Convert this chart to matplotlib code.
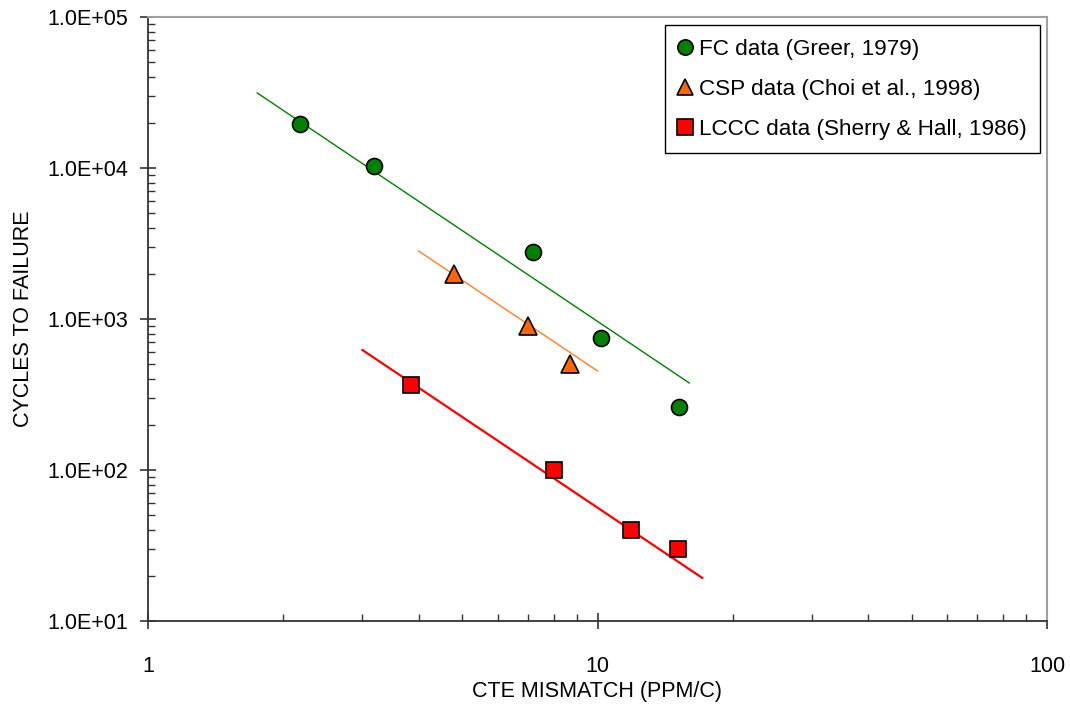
import matplotlib
matplotlib.use("Agg")
import matplotlib.pyplot as plt
from matplotlib.ticker import FixedLocator, FuncFormatter, LogLocator, NullFormatter

plt.rcParams['font.family'] = ['Liberation Sans', 'DejaVu Sans']

# Data
fc_x = [2.18, 3.18, 7.2, 10.2, 15.2]
fc_y = [19500, 10300, 2780, 748, 261]
csp_x = [4.8, 7.0, 8.7]
csp_y = [2000, 900, 500]
lccc_x = [3.85, 8.0, 11.9, 15.1]
lccc_y = [366, 100, 40, 30]

# Trend line end points
fc_fit_x = [1.75, 16.0]
fc_fit_y = [31400, 377]
csp_fit_x = [4.0, 10.0]
csp_fit_y = [2820, 453]
lccc_fit_x = [3.0, 17.1]
lccc_fit_y = [623, 19.3]

labels = ["FC data (Greer, 1979)", "CSP data (Choi et al., 1998)", "LCCC data (Sherry & Hall, 1986)"]

fig = plt.figure(figsize=(10.7, 7.04), dpi=100)
ax = fig.add_axes([148/1070, 1 - 621/704, (1047-148)/1070, (621-17)/704])
ax.set_xscale('log')
ax.set_yscale('log')
ax.set_xlim(1, 100)
ax.set_ylim(10, 1e5)

ax.plot(fc_fit_x, fc_fit_y, color='#008000', lw=1.0, zorder=2)
ax.plot(csp_fit_x, csp_fit_y, color='#FF7F27', lw=1.0, zorder=2)
ax.plot(lccc_fit_x, lccc_fit_y, color='#FF0000', lw=1.6, zorder=2)

ax.plot(fc_x, fc_y, 'o', ms=11.5, mfc='#008000', mec='black', mew=1.2, ls='none', label=labels[0], zorder=3)
ax.plot(csp_x, csp_y, '^', ms=12.5, mfc='#FF6600', mec='black', mew=1.2, ls='none', label=labels[1], zorder=3)
ax.plot(lccc_x, lccc_y, 's', ms=11.5, mfc='#FF0000', mec='black', mew=1.2, ls='none', label=labels[2], zorder=3)

for s in ['top', 'right']:
    ax.spines[s].set_color('#A0A0A0')
    ax.spines[s].set_linewidth(1.5)
for s in ['left', 'bottom']:
    ax.spines[s].set_color('#333333')
    ax.spines[s].set_linewidth(1.3)

ax.yaxis.set_major_locator(FixedLocator([10, 100, 1000, 10000, 100000]))
ax.yaxis.set_major_formatter(FuncFormatter(lambda v, p: "{:.1E}".format(v)))
ax.yaxis.set_minor_locator(LogLocator(base=10, subs=range(2, 10)))
ax.yaxis.set_minor_formatter(NullFormatter())
ax.xaxis.set_major_locator(FixedLocator([1, 10, 100]))
ax.xaxis.set_major_formatter(FuncFormatter(lambda v, p: "%d" % v))
ax.xaxis.set_minor_locator(LogLocator(base=10, subs=range(2, 10)))
ax.xaxis.set_minor_formatter(NullFormatter())

ax.tick_params(which='major', direction='inout', length=12, width=1.2, color='#333333', labelsize=15.5)
ax.tick_params(which='minor', direction='in', length=5, width=1.0, color='#333333')
ax.tick_params(axis='y', which='major', pad=8)
ax.tick_params(axis='x', which='major', pad=19)
ax.tick_params(top=False, right=False, which='both')

ax.set_xlabel("CTE MISMATCH (PPM/C)", fontsize=15.5, labelpad=3)
ax.set_ylabel("CYCLES TO FAILURE", fontsize=15.5, labelpad=10)

leg = ax.legend(loc='upper right', bbox_to_anchor=(1040/1070, 1 - 25/704), bbox_transform=fig.transFigure,
                fontsize=16.2, frameon=True, fancybox=False, edgecolor='black', framealpha=1,
                handlelength=0.6, handletextpad=0.3, labelspacing=0.85, borderpad=0.6, borderaxespad=0)
leg.get_frame().set_linewidth(1.0)
for h in leg.legend_handles:
    h.set_markersize(11)

fig.savefig("out.png", dpi=100)
